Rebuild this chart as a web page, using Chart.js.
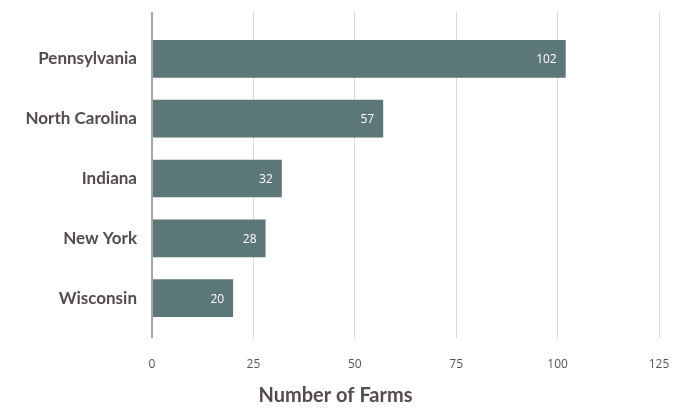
<!DOCTYPE html>
<html>
<head>
<meta charset="utf-8">
<script src="https://cdn.jsdelivr.net/npm/chart.js@4"></script>
<style>
  html, body { margin: 0; padding: 0; background: #fff; }
  #wrap { width: 676px; height: 408px; }
</style>
</head>
<body>
<div id="wrap"><canvas id="myChart"></canvas></div>
<script>
var states = ["Pennsylvania", "North Carolina", "Indiana", "New York", "Wisconsin"];
var farms = [102, 57, 32, 28, 20];
var xTicks = [0, 25, 50, 75, 100, 125];

var axisColor = '#aaa4a5';
var gridColor = '#d9d9d9';
var labelColor = '#554b4c';

function lineColor(c) { return c.tick && c.tick.value === 0 ? axisColor : gridColor; }
function lineWidth(c) { return c.tick && c.tick.value === 0 ? 2 : 1; }
function setTicks(scale) { scale.ticks = xTicks.map(function(v) { return { value: v }; }); }

// white value labels at the end of each bar
var barLabels = {
  id: 'barLabels',
  afterDatasetsDraw: function(chart) {
    var ctx = chart.ctx;
    var meta = chart.getDatasetMeta(0);
    ctx.save();
    ctx.font = '12px "Open Sans"';
    ctx.fillStyle = '#ffffff';
    ctx.textAlign = 'right';
    ctx.textBaseline = 'middle';
    meta.data.forEach(function(bar, i) {
      ctx.fillText(farms[i], bar.x - 9, bar.y + 1);
    });
    ctx.restore();
  }
};

var ctx = document.getElementById('myChart').getContext('2d');
var myChart = new Chart(ctx, {
  type: 'bar',
  data: {
    labels: states,
    datasets: [{
      data: farms,
      backgroundColor: '#5c7778',
      barPercentage: 0.63,
      categoryPercentage: 1
    }]
  },
  options: {
    indexAxis: 'y',
    responsive: true,
    maintainAspectRatio: false,
    animation: false,
    layout: { padding: { top: 12, right: 17, left: 12, bottom: 0 } },
    plugins: {
      legend: { display: false },
      tooltip: { enabled: false },
      title: {
        display: true,
        text: 'Number of Farms',
        position: 'bottom',
        color: labelColor,
        font: { family: 'Lato', size: 20, weight: 'bold' },
        padding: { top: 16, bottom: 0 }
      }
    },
    scales: {
      x: {
        type: 'linear',
        position: 'bottom',
        min: xTicks[0],
        max: xTicks[xTicks.length - 1],
        afterBuildTicks: setTicks,
        afterFit: function(scale) { scale.height = 40; scale.paddingLeft = 0; scale.paddingRight = 0; },
        ticks: { padding: 19, color: '#555555', font: { family: 'Open Sans', size: 12 } },
        grid: { color: lineColor, lineWidth: lineWidth, tickLength: 10 },
        border: { display: false }
      },
      xTop: {
        type: 'linear',
        position: 'top',
        min: xTicks[0],
        max: xTicks[xTicks.length - 1],
        afterBuildTicks: setTicks,
        afterFit: function(scale) { scale.height = 17; scale.paddingLeft = 0; scale.paddingRight = 0; },
        ticks: { display: false },
        grid: { color: lineColor, lineWidth: lineWidth, tickLength: 17, drawOnChartArea: false },
        border: { display: false }
      },
      y: {
        ticks: { color: labelColor, font: { family: 'Lato', size: 17, weight: 'bold' }, padding: 15 },
        grid: { display: false, drawTicks: false },
        border: { display: false },
        afterFit: function(scale) { scale.width = 140; }
      }
    }
  },
  plugins: [barLabels]
});
</script>
</body>
</html>
